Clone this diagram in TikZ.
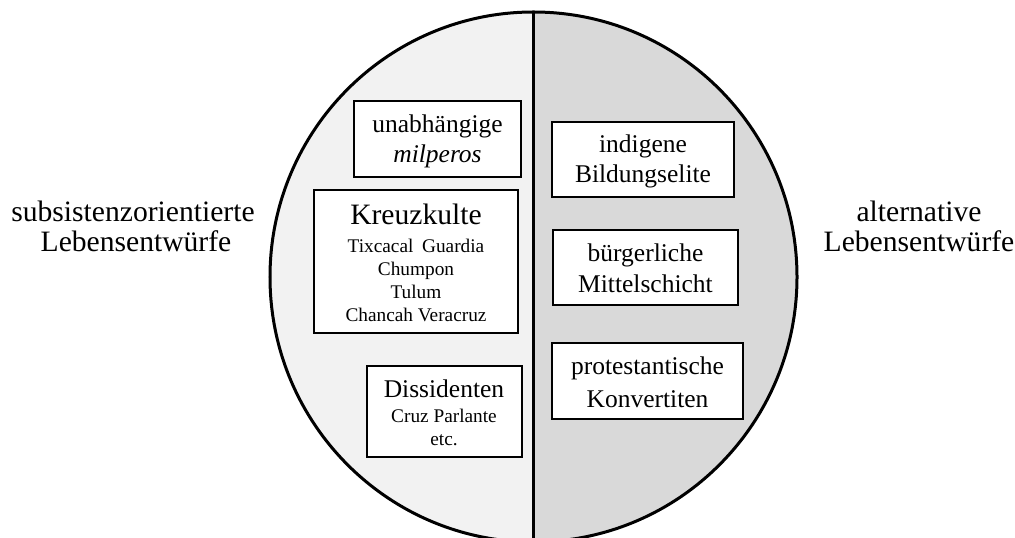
\documentclass[tikz,border=0pt]{standalone}
\usepackage{fontspec}
\setmainfont{Liberation Serif}
\definecolor{leftc}{HTML}{F2F2F2}
\definecolor{rightc}{HTML}{D9D9D9}
\tikzset{
  box/.style={draw=black, line width=1.4bp, fill=white, inner sep=0pt},
  big/.style={anchor=base, inner sep=0pt, font=\fontsize{29.6bp}{34bp}\selectfont},
  mid/.style={anchor=base, inner sep=0pt, font=\fontsize{25.5bp}{30bp}\selectfont},
  small/.style={anchor=base, inner sep=0pt, font=\fontsize{19.3bp}{23bp}\selectfont},
}
\begin{document}
\begin{tikzpicture}[x=1bp,y=-1bp]
\useasboundingbox (0,0) rectangle (1015,538);
% circle halves
\begin{scope}
  \clip (533.5,277) ellipse [x radius=263.5bp, y radius=265bp];
  \fill[leftc] (0,0) rectangle (533.5,600);
  \fill[rightc] (533.5,0) rectangle (1015,600);
\end{scope}
\draw[line width=3bp] (533.5,277) ellipse [x radius=263.5bp, y radius=265bp];
\coordinate (top) at (533.5,12);
\coordinate (bot) at (533.5,545);
\draw[line width=3bp] (top) -- (bot);

% side labels
\node[big] (l1) at (133,222) {subsistenzorientierte};
\node[big] (l2) at (136,252) {Lebensentwürfe};
\node[big] (r1) at (919,222) {alternative};
\node[big] (r2) at (919,252) {Lebensentwürfe};

% left boxes
\node[box, minimum width=167bp, minimum height=76bp] (b1) at (437.5,139) {};
\node[mid] (b1a) at (437.5,133) {unabhängige};
\node[mid] (b1b) at (437.5,163) {\itshape milperos};

\node[box, minimum width=204bp, minimum height=143bp] (b2) at (416,261.5) {};
\node[big] (b2a) at (416,225) {Kreuzkulte};
\node[small] (b2b) at (416,253) {Tixcacal\hspace{0.45em}Guardia};
\node[small] (b2c) at (416,276) {Chumpon};
\node[small] (b2d) at (416,299) {Tulum};
\node[small] (b2e) at (416,322) {Chancah Veracruz};

\node[box, minimum width=155bp, minimum height=91bp] (b3) at (444.5,411.5) {};
\node[mid] (b3a) at (444,397) {Dissidenten};
\node[small] (b3b) at (444,422) {Cruz Parlante};
\node[small] (b3c) at (444,445) {etc.};

% right boxes
\node[box, minimum width=182bp, minimum height=75bp] (b4) at (643,159.5) {};
\node[mid] (b4a) at (643,153) {indigene};
\node[mid] (b4b) at (643,183) {Bildungselite};

\node[box, minimum width=185bp, minimum height=75bp] (b5) at (645.5,267.5) {};
\node[mid] (b5a) at (645.5,262) {bürgerliche};
\node[mid] (b5b) at (645.5,293) {Mittelschicht};

\node[box, minimum width=191bp, minimum height=76bp] (b6) at (647.5,381) {};
\node[mid] (b6a) at (647.5,375) {protestantische};
\node[mid] (b6b) at (647.5,407) {Konvertiten};
\end{tikzpicture}
\end{document}
